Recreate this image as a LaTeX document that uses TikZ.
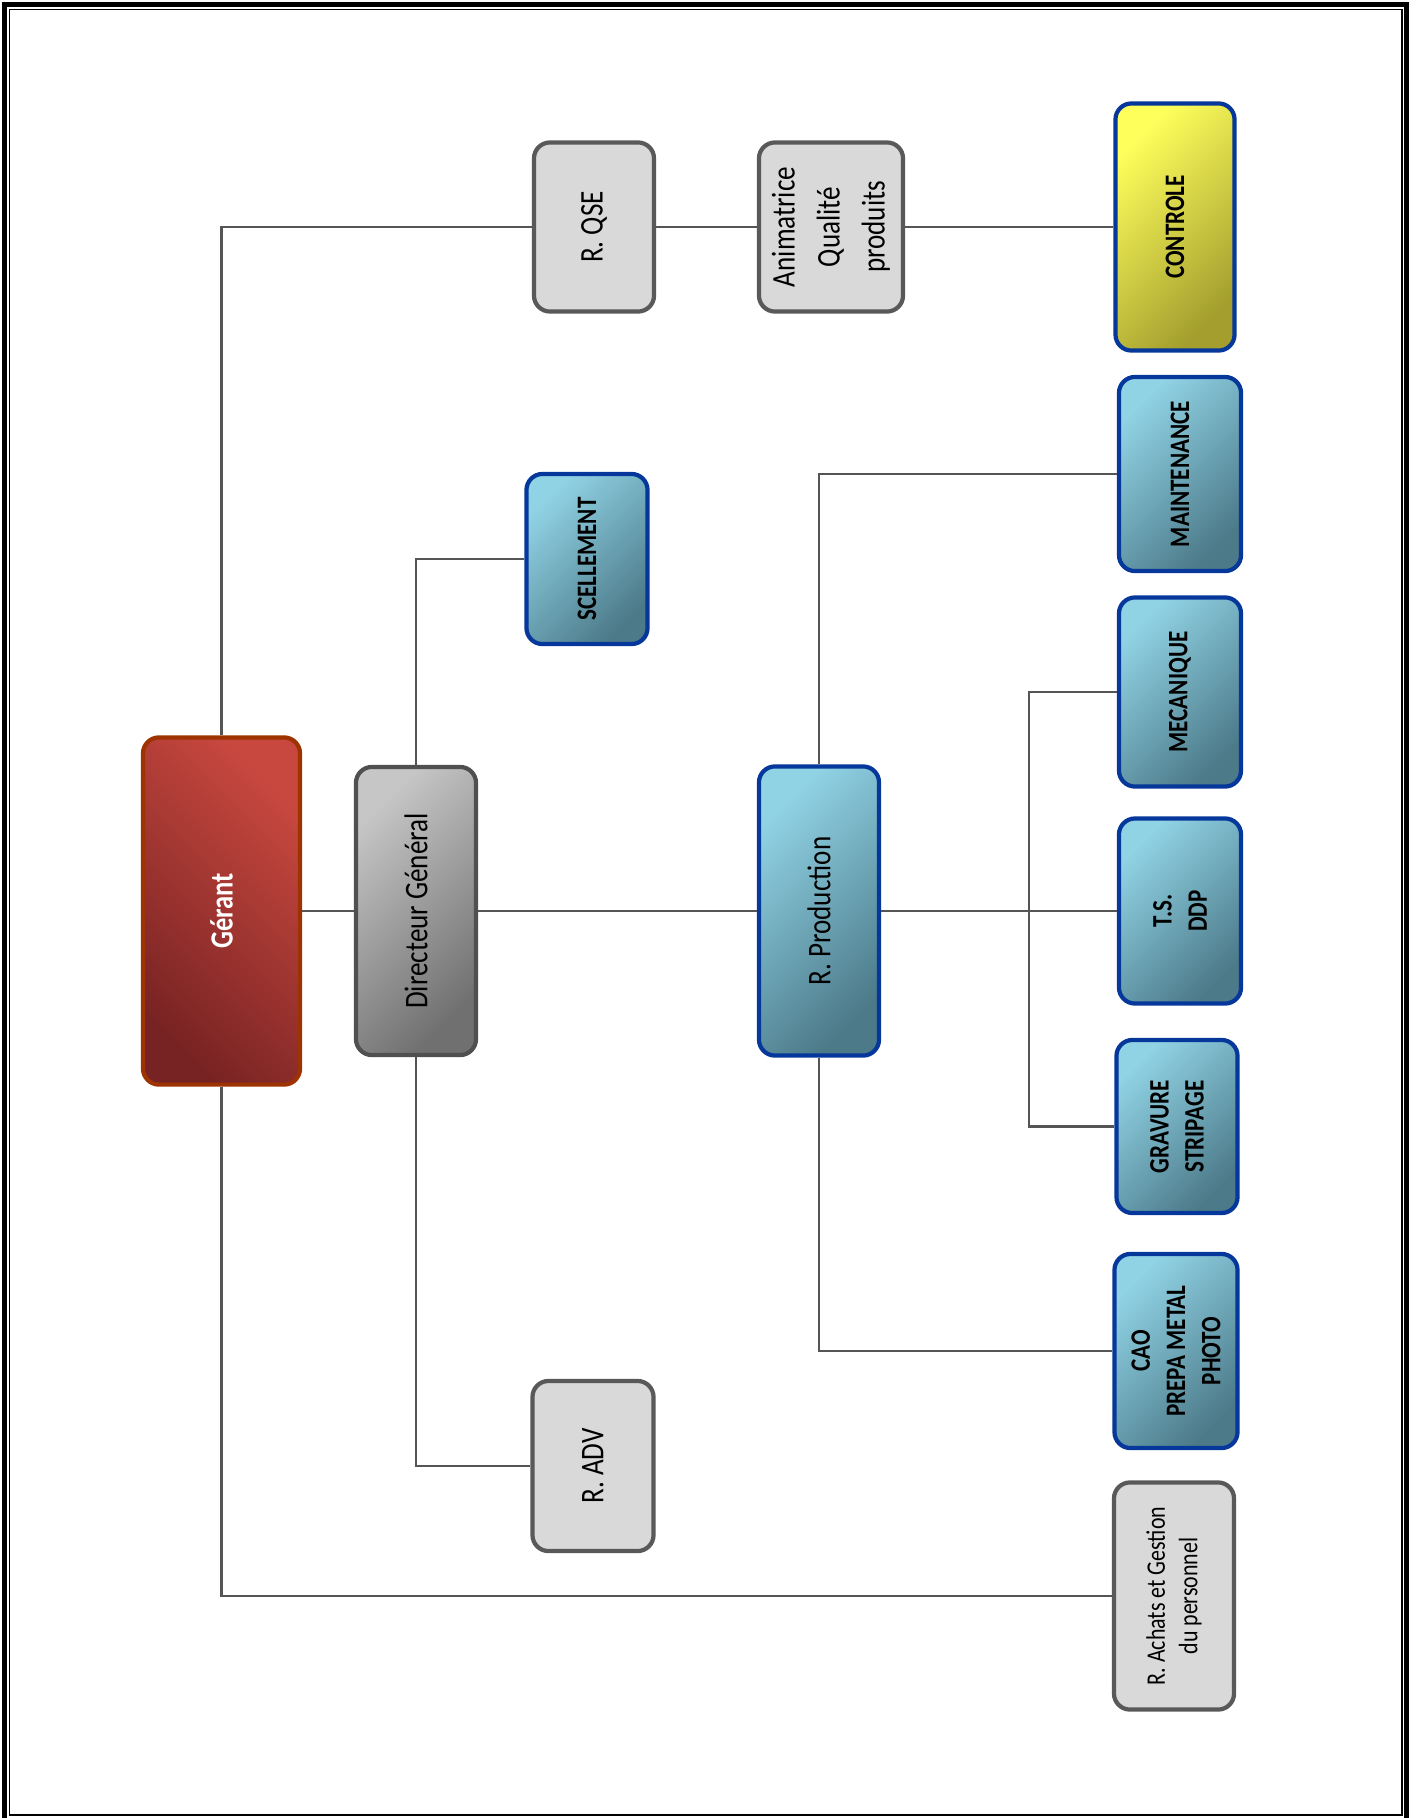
\documentclass[tikz,border=0pt]{standalone}
\usepackage{fontspec}
\setmainfont{Carlito}
\newfontfamily\orgfont[FakeStretch=0.82]{Carlito}
\usepackage{tikz}
\usetikzlibrary{positioning, calc, shadings}

\definecolor{gerantlight}{HTML}{C8483F}
\definecolor{gerantdark}{HTML}{782323}
\definecolor{gerantdraw}{HTML}{9C3300}
\definecolor{dglight}{HTML}{C6C6C6}
\definecolor{dgdark}{HTML}{707070}
\definecolor{greyfill}{HTML}{D9D9D9}
\definecolor{greydraw}{HTML}{595959}
\definecolor{bluelight}{HTML}{90D3E5}
\definecolor{bluedark}{HTML}{4C7A89}
\definecolor{bluedraw}{HTML}{06379A}
\definecolor{yellowlight}{HTML}{FFFF5C}
\definecolor{yellowdark}{HTML}{A39E2E}
\definecolor{linkgrey}{HTML}{555555}

\begin{document}
\begin{tikzpicture}[
    x=0.01cm, y=-0.01cm,
    box/.style={
        rectangle,
        rounded corners=0.16cm,
        rotate=90,
        line width=1.2pt,
        align=center,
        inner sep=2pt,
        font=\orgfont\fontsize{9.4}{12.8}\selectfont
    },
    greybox/.style={box, draw=greydraw, fill=greyfill},
    bluebox/.style={box, draw=bluedraw,
        top color=bluelight, bottom color=bluedark, shading angle=45,
        font=\orgfont\bfseries\fontsize{8}{10}\selectfont},
    link/.style={draw=linkgrey, line width=0.6pt}
]
    % page frame
    \useasboundingbox (0,0) rectangle (1416,1818);
    \draw[line width=1.45pt] (4.5,4.5) rectangle (1406.5,1830);
    \draw[line width=0.4pt] (9.5,9.5) rectangle (1402,1815);

    \node[box, draw=gerantdraw, top color=gerantlight, bottom color=gerantdark,
          shading angle=-45, minimum width=3.47cm, minimum height=1.57cm,
          text=white, font=\orgfont\bfseries\fontsize{9.2}{11}\selectfont]
          (gerant) at (221.5,911) {Gérant};
    \node[box, draw=greydraw!90!black, top color=dglight, bottom color=dgdark,
          shading angle=45, minimum width=2.88cm, minimum height=1.2cm]
          (dg) at (416,911) {Directeur Général};

    \node[greybox, minimum width=1.69cm, minimum height=1.2cm] (rqse) at (594,227) {R. QSE};
    \node[greybox, minimum width=1.69cm, minimum height=1.44cm] (anim) at (831,227)
          {Animatrice\\Qualité\\produits};
    \node[bluebox, top color=yellowlight, bottom color=yellowdark, shading angle=45,
          minimum width=2.47cm, minimum height=1.19cm] (controle) at (1175,227) {CONTROLE};

    \node[bluebox, minimum width=1.7cm, minimum height=1.21cm] (scel) at (587,559) {SCELLEMENT};
    \node[bluebox, minimum width=2.89cm, minimum height=1.2cm,
          font=\orgfont\fontsize{9.4}{12}\selectfont] (prod) at (819,911) {R. Production};

    \node[bluebox, minimum width=1.94cm, minimum height=1.22cm] (maint) at (1180,474) {MAINTENANCE};
    \node[bluebox, minimum width=1.89cm, minimum height=1.22cm] (meca) at (1180,692) {MECANIQUE};
    \node[bluebox, minimum width=1.85cm, minimum height=1.22cm] (tsddp) at (1180,911) {T.S.\\DDP};
    \node[bluebox, minimum width=1.73cm, minimum height=1.21cm] (grav) at (1177,1126.5) {GRAVURE\\STRIPAGE};
    \node[bluebox, minimum width=1.94cm, minimum height=1.23cm] (cao) at (1176,1351) {CAO\\PREPA METAL\\PHOTO};

    \node[greybox, minimum width=1.7cm, minimum height=1.21cm] (radv) at (593,1466) {R. ADV};
    \node[greybox, minimum width=2.27cm, minimum height=1.2cm,
          font=\orgfont\fontsize{7.6}{9.2}\selectfont] (rachat) at (1174,1596)
          {R. Achats et Gestion\\du personnel};

    \coordinate (bus) at (1029,911);

    \draw[link] (gerant) |- (rqse);
    \draw[link] (gerant) |- (rachat);
    \draw[link] (gerant) -- (dg);
    \draw[link] (dg) |- (scel);
    \draw[link] (dg) |- (radv);
    \draw[link] (dg) -- (prod);
    \draw[link] (rqse) -- (anim);
    \draw[link] (anim) -- (controle);
    \draw[link] (prod) |- (maint);
    \draw[link] (prod) |- (cao);
    \draw[link] (prod) -- (tsddp);
    \draw[link] (meca) -- (meca -| bus) |- (grav);
\end{tikzpicture}
\end{document}
